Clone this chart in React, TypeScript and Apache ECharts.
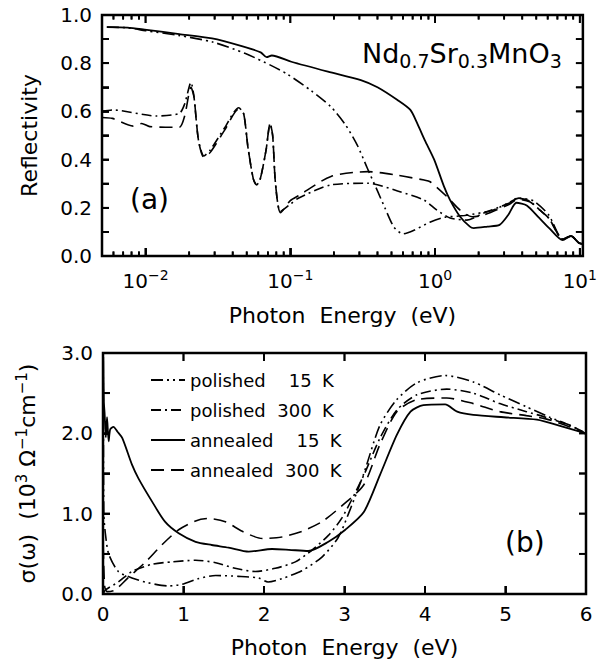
import React, { useEffect, useRef } from "react";
import * as echarts from "echarts";

// ---------- data ----------
const seriesNames = ["polished 15 K", "polished 300 K", "annealed 15 K", "annealed 300 K"];

// Panel (a): reflectivity vs photon energy (eV), log x
const refPolished15 = [[0.0054,0.95],[0.0075,0.947],[0.01,0.935],[0.017,0.915],[0.029,0.888],[0.049,0.84],[0.074,0.79],[0.095,0.755],[0.14,0.685],[0.19,0.62],[0.24,0.545],[0.29,0.46],[0.34,0.365],[0.40,0.27],[0.45,0.2],[0.52,0.12],[0.6,0.092],[0.72,0.108],[0.92,0.14],[1.15,0.16],[1.6,0.168],[2.5,0.19],[3.2,0.22],[3.8,0.24],[4.8,0.228],[6.1,0.17],[7.62,0.07],[8.69,0.083],[9.86,0.054],[10.5,0.05]];
const refPolished300 = [[0.005,0.60],[0.0059,0.606],[0.0119,0.581],[0.0171,0.592],[0.0186,0.63],[0.0206,0.72],[0.0216,0.66],[0.0232,0.48],[0.0253,0.415],[0.028,0.44],[0.035,0.53],[0.044,0.615],[0.0476,0.59],[0.051,0.45],[0.0555,0.32],[0.0585,0.295],[0.062,0.32],[0.068,0.44],[0.0725,0.55],[0.0755,0.50],[0.079,0.30],[0.0855,0.185],[0.1,0.215],[0.1135,0.24],[0.191,0.295],[0.343,0.302],[0.55,0.27],[0.84,0.232],[1.03,0.19],[1.27,0.158],[1.66,0.149],[2.17,0.178],[3.27,0.22],[3.7,0.24],[4.5,0.228],[5.3,0.19],[6.14,0.155],[7.62,0.07],[8.69,0.083],[9.86,0.054],[10.5,0.05]];
const refAnnealed15 = [[0.0054,0.95],[0.0075,0.948],[0.0102,0.938],[0.0171,0.921],[0.0288,0.903],[0.0462,0.871],[0.0624,0.845],[0.0686,0.825],[0.0745,0.832],[0.1016,0.806],[0.182,0.765],[0.307,0.73],[0.40,0.70],[0.55,0.647],[0.675,0.606],[0.753,0.55],[0.85,0.48],[0.986,0.40],[1.15,0.29],[1.27,0.232],[1.49,0.163],[1.74,0.122],[1.85,0.116],[2.3,0.122],[2.79,0.129],[3.2,0.17],[3.65,0.221],[4.3,0.21],[5.24,0.158],[6.14,0.116],[7.62,0.066],[8.69,0.083],[9.86,0.054],[10.5,0.05]];
const refAnnealed300 = [[0.005,0.575],[0.0059,0.571],[0.0082,0.539],[0.0094,0.55],[0.0107,0.537],[0.0171,0.534],[0.0186,0.58],[0.0206,0.70],[0.0216,0.66],[0.0232,0.48],[0.0253,0.41],[0.028,0.43],[0.035,0.52],[0.044,0.61],[0.0476,0.59],[0.051,0.45],[0.0555,0.32],[0.0585,0.295],[0.062,0.32],[0.068,0.44],[0.0725,0.55],[0.0755,0.50],[0.079,0.30],[0.0855,0.18],[0.1,0.23],[0.1135,0.25],[0.191,0.33],[0.343,0.35],[0.55,0.335],[0.84,0.315],[0.925,0.308],[1.21,0.246],[1.49,0.19],[1.8,0.163],[2.17,0.17],[3.27,0.215],[3.7,0.235],[4.5,0.225],[5.3,0.19],[6.14,0.155],[7.62,0.07],[8.69,0.083],[9.86,0.054],[10.5,0.05]];

// Panel (b): optical conductivity (10^3 / ohm cm) vs photon energy (eV)
const sigPolished15 = [[0.003,2.9],[0.01,1.0],[0.03,0.75],[0.07,0.5],[0.19,0.28],[0.36,0.2],[0.56,0.14],[0.81,0.1],[0.98,0.12],[1.18,0.19],[1.4,0.23],[1.68,0.22],[1.93,0.2],[2.05,0.15],[2.22,0.19],[2.47,0.29],[2.72,0.46],[2.92,0.7],[3.05,1.0],[3.24,1.5],[3.44,2.1],[3.65,2.42],[3.9,2.63],[4.25,2.72],[4.6,2.64],[4.93,2.48],[5.26,2.33],[5.55,2.2],[5.8,2.1],[6.0,2.0]];
const sigPolished300 = [[0.003,0.0],[0.03,0.05],[0.19,0.15],[0.36,0.28],[0.61,0.37],[0.86,0.40],[1.15,0.42],[1.4,0.39],[1.64,0.32],[1.89,0.28],[2.14,0.32],[2.39,0.40],[2.6,0.55],[2.8,0.73],[2.97,0.95],[3.24,1.48],[3.44,1.94],[3.65,2.29],[3.9,2.48],[4.27,2.55],[4.6,2.5],[4.93,2.37],[5.26,2.27],[5.5,2.2],[5.8,2.1],[6.0,2.0]];
const sigAnnealed15 = [[0.003,2.95],[0.01,2.4],[0.02,2.25],[0.035,1.95],[0.05,2.2],[0.07,1.9],[0.09,2.05],[0.13,2.08],[0.18,2.02],[0.24,1.94],[0.36,1.61],[0.44,1.44],[0.61,1.15],[0.77,0.90],[0.94,0.756],[1.15,0.65],[1.35,0.61],[1.56,0.577],[1.81,0.527],[2.1,0.56],[2.31,0.55],[2.55,0.535],[2.8,0.65],[3.01,0.80],[3.24,1.02],[3.44,1.48],[3.65,1.98],[3.82,2.27],[3.98,2.35],[4.25,2.36],[4.4,2.27],[4.6,2.23],[4.98,2.2],[5.39,2.17],[5.72,2.08],[6.0,2.0]];
const sigAnnealed300 = [[0.003,0.6],[0.02,0.1],[0.05,0.03],[0.15,0.05],[0.31,0.2],[0.53,0.40],[0.73,0.61],[0.94,0.80],[1.15,0.91],[1.31,0.94],[1.52,0.90],[1.73,0.78],[1.98,0.69],[2.22,0.71],[2.47,0.78],[2.72,0.90],[2.97,1.1],[3.24,1.36],[3.44,1.86],[3.65,2.27],[3.9,2.42],[4.27,2.44],[4.6,2.37],[4.93,2.27],[5.26,2.22],[5.5,2.18],[5.8,2.08],[6.0,1.99]];

// tick values
const logMajor = [0.01, 0.1, 1, 10];
const logMinor = [0.006,0.007,0.008,0.009,0.02,0.03,0.04,0.05,0.06,0.07,0.08,0.09,0.2,0.3,0.4,0.5,0.6,0.7,0.8,0.9,2,3,4,5,6,7,8,9];
const refTicksY = [0.1,0.2,0.3,0.4,0.5,0.6,0.7,0.8,0.9];
const sigTicksX = [1,2,3,4,5];
const sigTicksY = [0.5,1.0,1.5,2.0,2.5];

const dashStyles: any[] = [
  [12, 4, 2, 4, 2, 4], // polished 15 K : dash-dot-dot
  [10, 4, 2, 4],       // polished 300 K: dash-dot
  "solid",             // annealed 15 K
  [13, 7],             // annealed 300 K: dashed
];

const FONT = "DejaVu Sans";
const A_XMIN = 0.005, A_XMAX = 10.5, A_YMAX = 1;
const B_XMAX = 6, B_YMAX = 3;

export default function App() {
  const ref = useRef<HTMLDivElement>(null);
  useEffect(() => {
    const chart = echarts.init(ref.current!, null, { renderer: "svg" });
    const labelStyle = { color: "#000", fontFamily: FONT, fontSize: 20 };
    const sup = (e: number) => (e < 0 ? "−" + -e : String(e));
    const tickLine = { color: "#000", width: 1.8 };

    const mk = (name: string, i: number, data: number[][], xi: number, yi: number): any => ({
      name,
      type: "line",
      xAxisIndex: xi,
      yAxisIndex: yi,
      data,
      symbol: "none",
      smooth: 0.25,
      z: 2,
      lineStyle: { color: "#000", width: i === 2 ? 1.8 : 1.6, type: dashStyles[i] },
      itemStyle: { color: "#000" },
    });

    // tick marks as short segments of a line series
    const GAP = "-";
    const aXLenMaj = (8 / 241) * A_YMAX, aXLenMin = (4.5 / 241) * A_YMAX;
    const aYLenF = Math.pow(A_XMAX / A_XMIN, 7 / 485);
    const bXLen = (8 / 241) * B_YMAX, bYLen = (7 / 483) * B_XMAX;
    const ticksA: any[] = [];
    logMajor.forEach((v) => ticksA.push([v, 0], [v, aXLenMaj], [v, GAP], [v, A_YMAX], [v, A_YMAX - aXLenMaj], [v, GAP]));
    logMinor.forEach((v) => ticksA.push([v, 0], [v, aXLenMin], [v, GAP], [v, A_YMAX], [v, A_YMAX - aXLenMin], [v, GAP]));
    refTicksY.forEach((r) =>
      ticksA.push([A_XMIN, r], [A_XMIN * aYLenF, r], [A_XMIN * aYLenF, GAP], [A_XMAX, r], [A_XMAX / aYLenF, r], [A_XMAX / aYLenF, GAP])
    );
    const ticksB: any[] = [];
    sigTicksX.forEach((v) => ticksB.push([v, 0], [v, bXLen], [v, GAP], [v, B_YMAX], [v, B_YMAX - bXLen], [v, GAP]));
    sigTicksY.forEach((s) => ticksB.push([0, s], [bYLen, s], [bYLen, GAP], [B_XMAX, s], [B_XMAX - bYLen, s], [B_XMAX - bYLen, GAP]));
    const tickSeries = (name: string, data: any[], xi: number, yi: number): any => ({
      name,
      type: "line",
      xAxisIndex: xi,
      yAxisIndex: yi,
      data,
      symbol: "none",
      silent: true,
      connectNulls: false,
      clip: false,
      z: 3,
      lineStyle: { color: "#000", width: 1.8, type: "solid" },
      itemStyle: { color: "#000" },
    });

    const supRich = {
      n: { fontFamily: FONT, fontSize: 22, color: "#000" },
      s: { fontFamily: FONT, fontSize: 15, color: "#000", padding: [0, 0, 12, 0] },
    };
    const noLine = { show: false, onZero: false };

    const texts: any[] = [
      {
        type: "text",
        left: 362,
        top: 40,
        style: {
          text: "{n|Nd}{d|0.7}{n|Sr}{d|0.3}{n|MnO}{d|3}",
          rich: {
            n: { fontFamily: FONT, fontSize: 27, fill: "#000" },
            d: { fontFamily: FONT, fontSize: 19, fill: "#000", padding: [14, 0, 0, 0] },
          },
        },
      },
      { type: "text", left: 130, top: 185, style: { text: "(a)", fontFamily: FONT, fontSize: 28, fill: "#000" } },
      { type: "text", left: 505, top: 528, style: { text: "(b)", fontFamily: FONT, fontSize: 28, fill: "#000" } },
    ];

    chart.setOption({
      animation: false,
      backgroundColor: "#fff",
      grid: [
        { left: 102, top: 15, width: 485, height: 241, show: true, borderColor: "#000", borderWidth: 2.5, backgroundColor: "transparent" },
        { left: 103, top: 353, width: 483, height: 241, show: true, borderColor: "#000", borderWidth: 2.5, backgroundColor: "transparent" },
      ],
      xAxis: [
        {
          type: "log",
          gridIndex: 0,
          position: "bottom",
          min: A_XMIN,
          max: A_XMAX,
          logBase: 10,
          axisLine: noLine,
          axisTick: { show: true, inside: true, length: 8, customValues: logMajor, lineStyle: tickLine },
          splitLine: { show: false },
          axisLabel: {
            show: true,
            customValues: logMajor,
            margin: 12,
            formatter: (v: number) => `{b|10}{s|${sup(Math.round(Math.log10(v)))}}`,
            rich: {
              b: { fontFamily: FONT, fontSize: 20, color: "#000" },
              s: { fontFamily: FONT, fontSize: 14, color: "#000", padding: [0, 0, 12, 0] },
            },
          },
          name: "Photon  Energy  (eV)",
          nameLocation: "middle",
          nameGap: 48,
          nameTextStyle: { ...labelStyle, fontSize: 22 },
        },
        {
          type: "value",
          gridIndex: 1,
          position: "bottom",
          min: 0,
          max: B_XMAX,
          interval: 1,
          axisLine: noLine,
          axisTick: { show: true, inside: true, length: 8, lineStyle: tickLine },
          splitLine: { show: false },
          axisLabel: { ...labelStyle, margin: 10 },
          name: "Photon  Energy  (eV)",
          nameLocation: "middle",
          nameGap: 42,
          nameTextStyle: { ...labelStyle, fontSize: 22 },
        },
      ],
      yAxis: [
        {
          type: "value",
          gridIndex: 0,
          min: 0,
          max: A_YMAX,
          interval: 0.2,
          axisLine: noLine,
          axisTick: { show: true, inside: true, length: 7, lineStyle: tickLine },
          minorTick: { show: true, splitNumber: 2, length: 7, lineStyle: tickLine },
          splitLine: { show: false },
          axisLabel: { ...labelStyle, margin: 10, formatter: (v: number) => v.toFixed(1) },
          name: "Reflectivity",
          nameLocation: "middle",
          nameGap: 62,
          nameRotate: 90,
          nameTextStyle: { ...labelStyle, fontSize: 22 },
        },
        {
          type: "value",
          gridIndex: 1,
          min: 0,
          max: B_YMAX,
          interval: 1,
          axisLine: noLine,
          axisTick: { show: true, inside: true, length: 7, lineStyle: tickLine },
          minorTick: { show: true, splitNumber: 2, length: 7, lineStyle: tickLine },
          splitLine: { show: false },
          axisLabel: { ...labelStyle, margin: 10, formatter: (v: number) => v.toFixed(1) },
          name: "{n|σ(ω)  (10}{s|3}{n| Ω}{s|−1}{n|cm}{s|−1}{n|)}",
          nameLocation: "middle",
          nameGap: 62,
          nameRotate: 90,
          nameTextStyle: { ...labelStyle, fontSize: 22, rich: supRich },
        },
      ],
      legend: {
        data: seriesNames,
        orient: "vertical",
        left: 145,
        top: 366,
        itemWidth: 34,
        itemHeight: 14,
        itemGap: 12,
        itemStyle: { opacity: 0 },
        formatter: (name: string) => {
          const p = name.split(" ");
          return `{a|${p[0]}}{b|${p[1]}}{c|${p[2]}}`;
        },
        textStyle: {
          color: "#000",
          fontFamily: FONT,
          fontSize: 18,
          rich: {
            a: { fontFamily: FONT, fontSize: 18, color: "#000" },
            b: { fontFamily: FONT, fontSize: 18, color: "#000", width: 46, align: "right" },
            c: { fontFamily: FONT, fontSize: 18, color: "#000", width: 22, align: "right" },
          },
        },
      },
      graphic: texts,
      series: [
        mk(seriesNames[0], 0, refPolished15, 0, 0),
        mk(seriesNames[1], 1, refPolished300, 0, 0),
        mk(seriesNames[2], 2, refAnnealed15, 0, 0),
        mk(seriesNames[3], 3, refAnnealed300, 0, 0),
        mk(seriesNames[0], 0, sigPolished15, 1, 1),
        mk(seriesNames[1], 1, sigPolished300, 1, 1),
        mk(seriesNames[2], 2, sigAnnealed15, 1, 1),
        mk(seriesNames[3], 3, sigAnnealed300, 1, 1),
        tickSeries("ticks (a)", ticksA, 0, 0),
        tickSeries("ticks (b)", ticksB, 1, 1),
      ],
    });

    // additional tick marks as graphic polylines positioned through the axes' scales
    try {
      const segs: any[] = [];
      const seg = (x1: number, y1: number, x2: number, y2: number) => {
        if ([x1, y1, x2, y2].every((n) => Number.isFinite(n)))
          segs.push({
            type: "polyline",
            silent: true,
            z: 20,
            shape: { points: [[x1, y1], [x2, y2]] },
            style: { stroke: "#000", lineWidth: 1.8, fill: null },
          });
      };
      const px = (g: number, v: number[]) => chart.convertToPixel({ gridIndex: g } as any, v) as number[];
      const aTop = px(0, [1, A_YMAX])[1], aBot = px(0, [1, 0])[1];
      const aL = px(0, [A_XMIN, 0])[0], aR = px(0, [A_XMAX, 0])[0];
      logMajor.concat(logMinor).forEach((v) => {
        const len = logMajor.indexOf(v) >= 0 ? 8 : 4.5;
        const x = px(0, [v, 0])[0];
        seg(x, aBot, x, aBot - len);
        seg(x, aTop, x, aTop + len);
      });
      refTicksY.forEach((r) => {
        const y = px(0, [1, r])[1];
        seg(aL, y, aL + 7, y);
        seg(aR, y, aR - 7, y);
      });
      const bTop = px(1, [0, B_YMAX])[1], bBot = px(1, [0, 0])[1];
      const bL = px(1, [0, 0])[0], bR = px(1, [B_XMAX, 0])[0];
      sigTicksX.forEach((v) => {
        const x = px(1, [v, 0])[0];
        seg(x, bBot, x, bBot - 8);
        seg(x, bTop, x, bTop + 8);
      });
      sigTicksY.forEach((s) => {
        const y = px(1, [0, s])[1];
        seg(bL, y, bL + 7, y);
        seg(bR, y, bR - 7, y);
      });
      chart.setOption({ graphic: texts.concat(segs) });
    } catch (e) {
      // keep the chart as it is if the conversion is not available
    }

    return () => chart.dispose();
  }, []);
  return <div ref={ref} style={{ position: "absolute", left: 0, top: 0, width: 600, height: 664 }} />;
}
